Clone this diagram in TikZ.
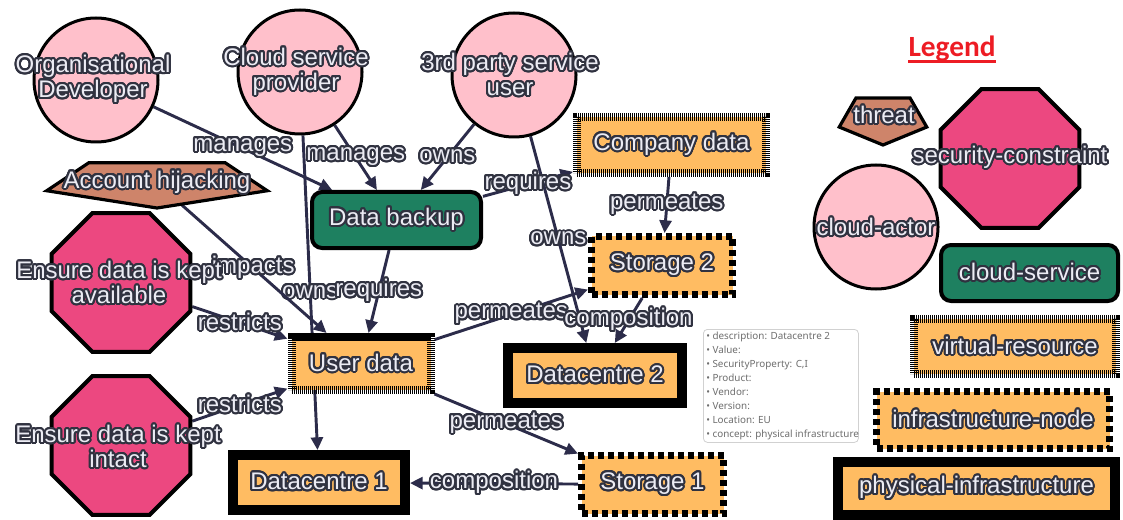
\documentclass[tikz,border=0pt]{standalone}
\usepackage{fontspec}
\setmainfont{Liberation Sans}
\newfontfamily\legendfont{Carlito}
\newfontfamily\infofont{Noto Sans}
\usepackage{contour}
\contourlength{1.5pt}
\contournumber{24}
\usetikzlibrary{arrows.meta,shapes.geometric}

\definecolor{edgec}{RGB}{44,44,74}
\definecolor{outl}{RGB}{48,50,64}
\definecolor{txt}{RGB}{236,236,244}
\definecolor{actor}{RGB}{255,192,203}
\definecolor{constraint}{RGB}{236,72,128}
\definecolor{threatc}{RGB}{206,132,106}
\definecolor{service}{RGB}{30,128,96}
\definecolor{resource}{RGB}{255,188,98}
\definecolor{legendred}{RGB}{237,28,36}
\definecolor{infogray}{RGB}{110,110,110}

% outlined (haloed) label text
\newcommand\hl[1]{\contour{outl}{#1}}

\pgfdeclarelayer{background}
\pgfsetlayers{background,main}

\tikzset{
  lbl/.style={font=\fontsize{18}{18.75}\selectfont, text=txt, inner sep=0pt, align=center},
  edge/.style={draw=edgec, line width=2.2pt, -{Triangle[length=9.5pt,width=9pt]}},
  actorshape/.style={circle, draw=black, line width=2.25pt, fill=actor,
    minimum size=124*0.75pt, inner sep=0pt},
  octshape/.style={regular polygon, regular polygon sides=8, draw=black, line width=3pt,
    fill=constraint, minimum size=150*0.75pt, inner sep=0pt},
  threatshape/.style={draw=black, line width=2.4pt, fill=threatc, line join=miter},
  servicebox/.style={lbl, rectangle, rounded corners=7.5pt, draw=black, line width=3pt, fill=service},
  resourcebox/.style={lbl, rectangle, fill=resource, draw=black, line width=6pt,
    dash pattern=on 0.8pt off 0.7pt},
  nodebox/.style={lbl, rectangle, fill=resource, draw=black, line width=5.25pt,
    dash pattern=on 4.5pt off 3pt},
  physbox/.style={lbl, rectangle, fill=resource, draw=black, line width=7.5pt},
}

\begin{document}
\begin{tikzpicture}[x=0.75pt, y=-0.75pt]
\useasboundingbox (0,0) rectangle (1123,520);

% ---- cloud actors
\node[actorshape] (od) at (96,80) {};
\node[lbl] (odtext) at (93,80) {\hl{Organisational}\\\hl{Developer}};
\node[actorshape] (csp) at (300,72) {};
\node[lbl] (csptext) at (296,72.5) {\hl{Cloud service}\\\hl{provider}};
\node[actorshape] (tp) at (514,75) {};
\node[lbl] (tptext) at (510,75.5) {\hl{3rd party service}\\\hl{user}};

% ---- threat
\begin{scope}[shift={(157,183)}, x=116*0.75pt, y=-25*0.75pt]
  \draw[threatshape] (90:1) -- (18:1) -- (-54:1) -- (-126:1) -- (162:1) -- cycle;
\end{scope}
\node[lbl, minimum width=221*0.75pt, minimum height=40*0.75pt] (ah) at (157,183) {\hl{Account hijacking}};

% ---- security constraints
\node[octshape] (avail) at (121,282.5) {};
\node[lbl] (availtext) at (119,283.5) {\hl{Ensure data is kept}\\\hl{available}};
\node[octshape] (intact) at (121,445.5) {};
\node[lbl] (intacttext) at (118,447.5) {\hl{Ensure data is kept}\\\hl{intact}};

% ---- service and resources
\node[servicebox, minimum width=169*0.75pt, minimum height=56*0.75pt] (db) at (396.5,220) {\hl{Data backup}};
\node[resourcebox, minimum width=189*0.75pt, minimum height=56*0.75pt] (cd) at (671.5,145) {\hl{Company data}};
\node[resourcebox, minimum width=139*0.75pt, minimum height=53*0.75pt] (ud) at (361,363.5) {\hl{User data}};
\node[nodebox, minimum width=141*0.75pt, minimum height=58*0.75pt] (s2) at (662,265.5) {\hl{Storage 2}};
\node[nodebox, minimum width=142*0.75pt, minimum height=58*0.75pt] (s1) at (652.5,484.5) {\hl{Storage 1}};
\node[physbox, minimum width=174*0.75pt, minimum height=55*0.75pt] (dc2) at (595,375.5) {\hl{Datacentre 2}};
\node[physbox, minimum width=172*0.75pt, minimum height=55*0.75pt] (dc1) at (319,482.5) {\hl{Datacentre 1}};

% ---- relations
\begin{pgfonlayer}{background}
\draw[edge] (od) -- node[lbl] (l1) {\hl{manages}} (db);
\draw[edge] (csp) -- node[lbl] (l2) {\hl{manages}} (db);
\draw[edge] (csp) -- node[lbl] (l3) {\hl{owns}} (dc1);
\draw[edge] (tp) -- node[lbl] (l4) {\hl{owns}} (db);
\draw[edge] (tp) -- node[lbl] (l5) {\hl{owns}} (dc2);
\draw[edge] (db) -- node[lbl] (l6) {\hl{requires}} (cd);
\draw[edge] (db) -- node[lbl] (l7) {\hl{requires}} (ud);
\draw[edge] (ah) -- node[lbl] (l8) {\hl{impacts}} (ud);
\draw[edge] (avail) -- node[lbl] (l9) {\hl{restricts}} (ud);
\draw[edge] (intact) -- node[lbl] (l10) {\hl{restricts}} (ud);
\draw[edge] (ud) -- node[lbl] (l11) {\hl{permeates}} (s1);
\draw[edge] (ud) -- node[lbl] (l12) {\hl{permeates}} (s2);
\draw[edge] (cd) -- node[lbl] (l13) {\hl{permeates}} (s2);
\draw[edge] (s2) -- node[lbl] (l14) {\hl{composition}} (dc2);
\draw[edge] (s1) -- node[lbl] (l15) {\hl{composition}} (dc1);
\end{pgfonlayer}

% ---- property panel of the selected element
\node[draw=black!18, rounded corners=3pt, line width=0.6pt, fill=white, anchor=north west,
  minimum width=155*0.75pt, minimum height=113*0.75pt, inner sep=0pt] (info) at (703,329) {};
\node[anchor=north west, inner sep=0pt, align=left, text=infogray,
  font=\infofont\fontsize{7.4}{10.5}\selectfont] (infotext) at (706,331.5)
  {• description: Datacentre 2\\
   • Value:\\
   • SecurityProperty: C,I\\
   • Product:\\
   • Vendor:\\
   • Version:\\
   • Location: EU\\
   • concept: physical infrastructure};

% ---- legend
\node[anchor=base, inner sep=0pt, text=legendred,
  font=\legendfont\bfseries\fontsize{22}{22}\selectfont] (legend) at (952,57) {Legend};
\draw[legendred, line width=2pt] ([yshift=-3.5pt]legend.base west) -- ([yshift=-3.5pt]legend.base east);

\begin{scope}[shift={(883,119)}, x=46*0.75pt, y=-26*0.75pt]
  \draw[threatshape] (90:1) -- (18:1) -- (-54:1) -- (-126:1) -- (162:1) -- cycle;
\end{scope}
\node[lbl] (lgthreat) at (884,116) {\hl{threat}};
\node[octshape] (lgsec) at (1010,158.5) {};
\node[lbl] (lgsectext) at (1010,158) {\hl{security-constraint}};
\node[actorshape] (lgactor) at (876,227) {};
\node[lbl] (lgactortext) at (876,228) {\hl{cloud-actor}};
\node[servicebox, minimum width=177*0.75pt, minimum height=56*0.75pt] (lgservice) at (1029.5,273) {\hl{cloud-service}};
\node[resourcebox, minimum width=202*0.75pt, minimum height=55*0.75pt] (lgresource) at (1015,346.5) {\hl{virtual-resource}};
\node[nodebox, minimum width=233*0.75pt, minimum height=57*0.75pt] (lgnode) at (993,420) {\hl{infrastructure-node}};
\node[physbox, minimum width=277*0.75pt, minimum height=53*0.75pt] (lgphys) at (976.5,488.5) {\hl{physical-infrastructure}};
\end{tikzpicture}
\end{document}
